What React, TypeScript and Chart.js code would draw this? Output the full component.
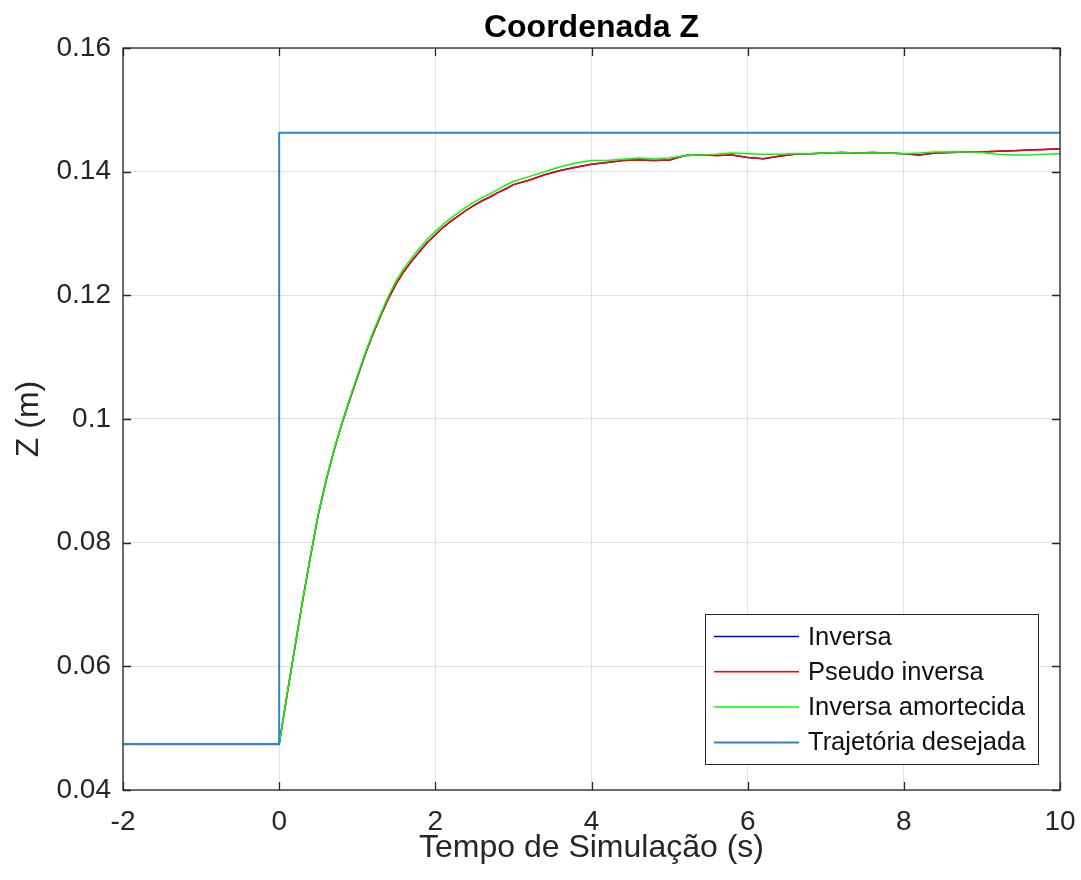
import React, { useEffect, useRef } from "react";
import { Chart, registerables } from "chart.js";

Chart.register(...registerables);

const FONT = '"Liberation Sans", Arial, Helvetica, sans-serif';

// ---- data ----
const chartTitle = "Coordenada Z";
const xAxisTitle = "Tempo de Simulação (s)";
const yAxisTitle = "Z (m)";

const xTickLabels = ["-2", "0", "2", "4", "6", "8", "10"];
const yTickLabels = ["0.04", "0.06", "0.08", "0.1", "0.12", "0.14", "0.16"];

const seriesNames = ["Inversa", "Pseudo inversa", "Inversa amortecida", "Trajetória desejada"];
const seriesColors = ["#0000FF", "#FF0000", "#00FF00", "#2F86CF"];

const simTime = [
  -2, 0, 0.1, 0.2, 0.3, 0.4, 0.5, 0.6, 0.7, 0.8, 0.9, 1.0, 1.1, 1.2, 1.3, 1.4, 1.5, 1.6, 1.7, 1.8, 1.9,
  2.0, 2.1, 2.2, 2.3, 2.4, 2.5, 2.6, 2.7, 2.8, 2.9, 3.0,
  3.2, 3.4, 3.6, 3.8, 4.0, 4.2, 4.4, 4.6, 4.8, 5.0, 5.2, 5.4, 5.6, 5.8, 6.0, 6.2, 6.4, 6.6, 6.8, 7.0,
  7.2, 7.4, 7.6, 7.8, 8.0, 8.2, 8.4, 8.6, 8.8, 9.0, 9.2, 9.4, 9.6, 9.8, 10.0,
];

const pseudoInversa = [
  0.0474, 0.0474, 0.0553, 0.063, 0.0706, 0.0777, 0.0845, 0.09, 0.0948, 0.0991, 0.103, 0.1067, 0.1104,
  0.1137, 0.1167, 0.1195, 0.1219, 0.1239, 0.1256, 0.1271, 0.1286, 0.1298, 0.131, 0.132, 0.1329, 0.1338,
  0.1346, 0.1353, 0.1359, 0.1366, 0.1372, 0.1379,
  0.1386, 0.1395, 0.1402, 0.1407, 0.1412, 0.1415, 0.1418, 0.1419, 0.1418, 0.1419, 0.1426, 0.1427,
  0.1426, 0.1427, 0.1423, 0.1421, 0.1425, 0.1428, 0.1429, 0.143, 0.1431, 0.143, 0.1431, 0.143, 0.1429,
  0.1427, 0.143, 0.1431, 0.1432, 0.1432, 0.1433, 0.1434, 0.1435, 0.1436, 0.1437,
];

const inversaAmortecida = [
  0.0474, 0.0474, 0.0554, 0.0631, 0.0706, 0.0778, 0.0846, 0.0901, 0.0949, 0.0992, 0.1032, 0.1069,
  0.1106, 0.114, 0.117, 0.1199, 0.1224, 0.1244, 0.1261, 0.1276, 0.1291, 0.1303, 0.1315, 0.1325, 0.1334,
  0.1343, 0.1351, 0.1358, 0.1364, 0.1371, 0.1378, 0.1384,
  0.1392, 0.14, 0.1408, 0.1414, 0.1418, 0.1418, 0.142, 0.1422, 0.1421, 0.1422, 0.1426, 0.1427, 0.1428,
  0.143, 0.1429, 0.1428, 0.1428, 0.1429, 0.1429, 0.143, 0.1431, 0.143, 0.143, 0.143, 0.1429, 0.143,
  0.1432, 0.1432, 0.1432, 0.1431, 0.1428, 0.1427, 0.1427, 0.1428, 0.1429,
];

// Inversa coincides with the pseudo inversa trace (hidden underneath it)
const inversa = pseudoInversa;

const trajTime = [-2, 0, 0, 10];
const trajValues = [0.0474, 0.0474, 0.1463, 0.1463];

const toPoints = (xs: number[], ys: number[]) => xs.map((x, i) => ({ x, y: ys[i] }));

const W = 1081;
const H = 880;

export default function App() {
  const ref = useRef<HTMLCanvasElement>(null);

  useEffect(() => {
    document.body.style.margin = "0";
    document.body.style.overflow = "hidden";
    if (!ref.current) return;

    const framePlugin = {
      id: "frame",
      afterDatasetsDraw(chart: any) {
        const { ctx, chartArea: ca, scales } = chart;
        const xs = scales.x;
        const ys = scales.y;
        ctx.save();
        // box
        ctx.strokeStyle = "#262626";
        ctx.lineWidth = 1.3;
        ctx.strokeRect(ca.left, ca.top, ca.right - ca.left, ca.bottom - ca.top);
        // inner ticks
        const tl = 8;
        ctx.beginPath();
        xs.ticks.forEach((t: any) => {
          const px = Math.round(xs.getPixelForValue(t.value)) + 0.5;
          ctx.moveTo(px, ca.bottom);
          ctx.lineTo(px, ca.bottom - tl);
          ctx.moveTo(px, ca.top);
          ctx.lineTo(px, ca.top + tl);
        });
        ys.ticks.forEach((t: any) => {
          const py = Math.round(ys.getPixelForValue(t.value)) + 0.5;
          ctx.moveTo(ca.left, py);
          ctx.lineTo(ca.left + tl, py);
          ctx.moveTo(ca.right, py);
          ctx.lineTo(ca.right - tl, py);
        });
        ctx.stroke();

        // legend
        const w = 333;
        const h = 150;
        const bx = ca.right - 22 - w;
        const by = ca.bottom - 26 - h;
        ctx.fillStyle = "#ffffff";
        ctx.fillRect(bx, by, w, h);
        ctx.strokeStyle = "#262626";
        ctx.lineWidth = 1;
        ctx.strokeRect(Math.round(bx) + 0.5, Math.round(by) + 0.5, w, h);
        ctx.font = `25.5px ${FONT}`;
        ctx.textAlign = "left";
        ctx.textBaseline = "middle";
        seriesNames.forEach((name, i) => {
          const cy = by + 22.5 + i * 35.3;
          ctx.strokeStyle = seriesColors[i];
          ctx.lineWidth = i === 3 ? 2 : 1.5;
          ctx.beginPath();
          ctx.moveTo(bx + 9, cy);
          ctx.lineTo(bx + 94, cy);
          ctx.stroke();
          ctx.fillStyle = "#111111";
          ctx.fillText(name, bx + 103, cy + 1);
        });

        // title
        ctx.font = `bold 32px ${FONT}`;
        ctx.fillStyle = "#000000";
        ctx.textAlign = "center";
        ctx.textBaseline = "alphabetic";
        ctx.fillText(chartTitle, (ca.left + ca.right) / 2, 37);
        ctx.restore();
      },
    };

    const chart = new Chart(ref.current, {
      type: "line",
      data: {
        datasets: [
          {
            label: seriesNames[3],
            data: toPoints(trajTime, trajValues),
            borderColor: seriesColors[3],
            borderWidth: 2,
            order: 0,
          },
          {
            label: seriesNames[2],
            data: toPoints(simTime, inversaAmortecida),
            borderColor: seriesColors[2],
            borderWidth: 1.5,
            order: 1,
          },
          {
            label: seriesNames[1],
            data: toPoints(simTime, pseudoInversa),
            borderColor: seriesColors[1],
            borderWidth: 1.5,
            order: 2,
          },
          {
            label: seriesNames[0],
            data: toPoints(simTime, inversa),
            borderColor: seriesColors[0],
            borderWidth: 1.5,
            order: 3,
          },
        ],
      },
      options: {
        responsive: false,
        animation: false,
        devicePixelRatio: 1,
        parsing: false as any,
        elements: { point: { radius: 0 }, line: { tension: 0, fill: false } },
        layout: { padding: { top: 48, right: 21, left: 0, bottom: 0 } },
        plugins: { legend: { display: false }, tooltip: { enabled: false }, title: { display: false } },
        scales: {
          x: {
            type: "linear",
            min: -2,
            max: 10,
            afterFit: (s: any) => {
              s.height = 90;
              s.paddingLeft = 0;
              s.paddingRight = 0;
            },
            ticks: {
              stepSize: 2,
              padding: 15,
              color: "#262626",
              font: { family: FONT, size: 28 },
              callback: (_v: any, i: number) => xTickLabels[i],
              maxRotation: 0,
              autoSkip: false,
            },
            grid: { color: "#e2e2e2", drawTicks: false, lineWidth: 1 },
            border: { display: false },
            title: {
              display: true,
              text: xAxisTitle,
              color: "#262626",
              font: { family: FONT, size: 32 },
              padding: { top: 0, bottom: 12.5 },
            },
          },
          y: {
            type: "linear",
            min: 0.04,
            max: 0.16,
            afterFit: (s: any) => {
              s.width = 123;
              s.paddingTop = 0;
              s.paddingBottom = 0;
            },
            ticks: {
              stepSize: 0.02,
              padding: 12,
              color: "#262626",
              font: { family: FONT, size: 28 },
              callback: (_v: any, i: number) => yTickLabels[i],
              autoSkip: false,
            },
            grid: { color: "#e2e2e2", drawTicks: false, lineWidth: 1 },
            border: { display: false },
            title: {
              display: true,
              text: yAxisTitle,
              color: "#262626",
              font: { family: FONT, size: 32 },
              padding: { top: 10.4, bottom: 0 },
            },
          },
        },
      },
      plugins: [framePlugin],
    });

    return () => chart.destroy();
  }, []);

  return (
    <div style={{ width: W, height: H }}>
      <canvas ref={ref} width={W} height={H} style={{ display: "block" }} />
    </div>
  );
}
